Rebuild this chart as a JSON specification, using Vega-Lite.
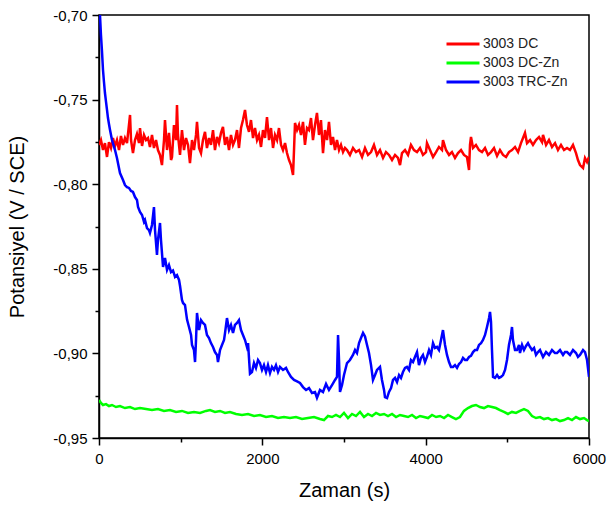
{
"$schema": "https://vega.github.io/schema/vega-lite/v6.json",
"width": 490, "height": 423,
"autosize": {"type": "none"},
"padding": {"left": 99, "top": 15, "right": 21, "bottom": 71},
"background": "white",
"config": {
  "locale": {"number": {"decimal": ",", "thousands": "", "grouping": [3], "currency": ["", ""], "minus": "-"}},
  "view": {"stroke": "black", "strokeWidth": 1.5},
  "font": "Liberation Sans",
  "axis": {"grid": false, "domainColor": "black", "domainWidth": 1.5, "tickColor": "black", "tickWidth": 1.5,
           "labelFont": "Liberation Sans", "labelFontSize": 15, "labelColor": "black",
           "titleFont": "Liberation Sans", "titleFontSize": 20, "titleFontWeight": "normal", "titleColor": "black"}
},
"datasets": {
"dc": [
{"t":0,"v":-0.7768},{"t":24,"v":-0.7739},{"t":49,"v":-0.7798},{"t":73,"v":-0.7757},{"t":98,"v":-0.7839},{"t":122,"v":-0.7751},{"t":147,"v":-0.7786},{"t":171,"v":-0.7727},{"t":196,"v":-0.7774},{"t":220,"v":-0.7739},{"t":245,"v":-0.7798},{"t":269,"v":-0.7715},{"t":294,"v":-0.7768},{"t":318,"v":-0.7727},{"t":343,"v":-0.7757},{"t":367,"v":-0.765},{"t":380,"v":-0.7591},{"t":392,"v":-0.7739},{"t":416,"v":-0.7816},{"t":441,"v":-0.7739},{"t":465,"v":-0.7703},{"t":490,"v":-0.7757},{"t":502,"v":-0.7668},{"t":527,"v":-0.7774},{"t":551,"v":-0.7709},{"t":576,"v":-0.7739},{"t":600,"v":-0.7727},{"t":624,"v":-0.778},{"t":649,"v":-0.7709},{"t":673,"v":-0.7786},{"t":698,"v":-0.7739},{"t":722,"v":-0.7798},{"t":747,"v":-0.7827},{"t":771,"v":-0.7887},{"t":796,"v":-0.7739},{"t":808,"v":-0.7621},{"t":833,"v":-0.7798},{"t":857,"v":-0.7697},{"t":882,"v":-0.7857},{"t":894,"v":-0.7839},{"t":918,"v":-0.765},{"t":943,"v":-0.7739},{"t":955,"v":-0.7532},{"t":967,"v":-0.7709},{"t":992,"v":-0.7827},{"t":1016,"v":-0.768},{"t":1041,"v":-0.7798},{"t":1065,"v":-0.7727},{"t":1090,"v":-0.7768},{"t":1114,"v":-0.7875},{"t":1139,"v":-0.7739},{"t":1163,"v":-0.7798},{"t":1188,"v":-0.7709},{"t":1200,"v":-0.7632},{"t":1225,"v":-0.7786},{"t":1249,"v":-0.7816},{"t":1273,"v":-0.7739},{"t":1298,"v":-0.7691},{"t":1322,"v":-0.7786},{"t":1347,"v":-0.7727},{"t":1371,"v":-0.7768},{"t":1396,"v":-0.768},{"t":1420,"v":-0.7798},{"t":1445,"v":-0.7721},{"t":1469,"v":-0.7757},{"t":1494,"v":-0.7697},{"t":1518,"v":-0.7662},{"t":1543,"v":-0.7768},{"t":1567,"v":-0.7721},{"t":1592,"v":-0.7798},{"t":1616,"v":-0.7709},{"t":1641,"v":-0.7768},{"t":1665,"v":-0.7739},{"t":1690,"v":-0.768},{"t":1714,"v":-0.7786},{"t":1739,"v":-0.7668},{"t":1763,"v":-0.7621},{"t":1788,"v":-0.7561},{"t":1812,"v":-0.765},{"t":1837,"v":-0.7691},{"t":1861,"v":-0.7621},{"t":1886,"v":-0.7727},{"t":1910,"v":-0.7668},{"t":1935,"v":-0.7739},{"t":1959,"v":-0.7709},{"t":1984,"v":-0.778},{"t":2008,"v":-0.768},{"t":2033,"v":-0.7727},{"t":2057,"v":-0.7603},{"t":2082,"v":-0.7739},{"t":2106,"v":-0.7668},{"t":2131,"v":-0.7786},{"t":2155,"v":-0.7709},{"t":2180,"v":-0.7739},{"t":2204,"v":-0.7668},{"t":2229,"v":-0.7768},{"t":2253,"v":-0.7798},{"t":2278,"v":-0.7757},{"t":2302,"v":-0.7816},{"t":2327,"v":-0.7857},{"t":2351,"v":-0.7887},{"t":2376,"v":-0.7946},{"t":2388,"v":-0.7798},{"t":2400,"v":-0.7638},{"t":2425,"v":-0.768},{"t":2449,"v":-0.765},{"t":2474,"v":-0.7709},{"t":2498,"v":-0.7632},{"t":2522,"v":-0.7768},{"t":2547,"v":-0.7668},{"t":2571,"v":-0.768},{"t":2596,"v":-0.7609},{"t":2620,"v":-0.7739},{"t":2645,"v":-0.765},{"t":2669,"v":-0.7579},{"t":2694,"v":-0.7709},{"t":2718,"v":-0.7621},{"t":2743,"v":-0.7816},{"t":2767,"v":-0.768},{"t":2792,"v":-0.7739},{"t":2816,"v":-0.7632},{"t":2841,"v":-0.7768},{"t":2865,"v":-0.7721},{"t":2890,"v":-0.7798},{"t":2914,"v":-0.7739},{"t":2939,"v":-0.7798},{"t":2963,"v":-0.7768},{"t":2988,"v":-0.781},{"t":3012,"v":-0.7786},{"t":3037,"v":-0.7798},{"t":3073,"v":-0.7827},{"t":3110,"v":-0.7786},{"t":3147,"v":-0.781},{"t":3184,"v":-0.7798},{"t":3221,"v":-0.7839},{"t":3257,"v":-0.7786},{"t":3294,"v":-0.7827},{"t":3331,"v":-0.781},{"t":3367,"v":-0.7768},{"t":3404,"v":-0.7827},{"t":3441,"v":-0.7798},{"t":3478,"v":-0.7845},{"t":3514,"v":-0.781},{"t":3551,"v":-0.7827},{"t":3588,"v":-0.7857},{"t":3625,"v":-0.7827},{"t":3661,"v":-0.7845},{"t":3686,"v":-0.7887},{"t":3710,"v":-0.7816},{"t":3747,"v":-0.7798},{"t":3784,"v":-0.7827},{"t":3820,"v":-0.7768},{"t":3857,"v":-0.7798},{"t":3894,"v":-0.781},{"t":3931,"v":-0.7786},{"t":3967,"v":-0.7827},{"t":4004,"v":-0.781},{"t":4016,"v":-0.7757},{"t":4053,"v":-0.7798},{"t":4090,"v":-0.7839},{"t":4127,"v":-0.781},{"t":4163,"v":-0.778},{"t":4200,"v":-0.7798},{"t":4212,"v":-0.7739},{"t":4249,"v":-0.7798},{"t":4286,"v":-0.7827},{"t":4322,"v":-0.781},{"t":4359,"v":-0.7845},{"t":4396,"v":-0.7816},{"t":4433,"v":-0.7798},{"t":4469,"v":-0.7827},{"t":4506,"v":-0.7839},{"t":4531,"v":-0.7916},{"t":4543,"v":-0.7768},{"t":4555,"v":-0.7721},{"t":4580,"v":-0.7786},{"t":4616,"v":-0.7768},{"t":4653,"v":-0.7798},{"t":4690,"v":-0.781},{"t":4727,"v":-0.7786},{"t":4763,"v":-0.7827},{"t":4800,"v":-0.781},{"t":4837,"v":-0.7786},{"t":4874,"v":-0.7833},{"t":4910,"v":-0.7798},{"t":4947,"v":-0.7827},{"t":4984,"v":-0.7839},{"t":5020,"v":-0.781},{"t":5057,"v":-0.7798},{"t":5094,"v":-0.778},{"t":5131,"v":-0.781},{"t":5167,"v":-0.7757},{"t":5192,"v":-0.7727},{"t":5216,"v":-0.7697},{"t":5241,"v":-0.7757},{"t":5278,"v":-0.7739},{"t":5314,"v":-0.7768},{"t":5351,"v":-0.7739},{"t":5388,"v":-0.7721},{"t":5425,"v":-0.7751},{"t":5437,"v":-0.7709},{"t":5474,"v":-0.7768},{"t":5510,"v":-0.7739},{"t":5547,"v":-0.778},{"t":5584,"v":-0.7757},{"t":5620,"v":-0.7798},{"t":5657,"v":-0.7768},{"t":5694,"v":-0.7798},{"t":5731,"v":-0.7786},{"t":5767,"v":-0.7798},{"t":5804,"v":-0.7768},{"t":5841,"v":-0.7816},{"t":5865,"v":-0.7857},{"t":5890,"v":-0.7887},{"t":5927,"v":-0.7904},{"t":5951,"v":-0.7845},{"t":5976,"v":-0.7869},{"t":6000,"v":-0.7839}
],
"dczn": [
{"t":0,"v":-0.9275},{"t":24,"v":-0.9293},{"t":49,"v":-0.9305},{"t":86,"v":-0.93},{"t":122,"v":-0.9311},{"t":159,"v":-0.9305},{"t":208,"v":-0.9317},{"t":257,"v":-0.9311},{"t":318,"v":-0.9323},{"t":380,"v":-0.9317},{"t":441,"v":-0.9329},{"t":502,"v":-0.9323},{"t":576,"v":-0.9329},{"t":649,"v":-0.9335},{"t":722,"v":-0.9329},{"t":796,"v":-0.934},{"t":869,"v":-0.9335},{"t":943,"v":-0.9346},{"t":1016,"v":-0.934},{"t":1090,"v":-0.9352},{"t":1163,"v":-0.9346},{"t":1237,"v":-0.9352},{"t":1310,"v":-0.934},{"t":1359,"v":-0.9335},{"t":1420,"v":-0.9346},{"t":1482,"v":-0.934},{"t":1543,"v":-0.9352},{"t":1604,"v":-0.9346},{"t":1678,"v":-0.9358},{"t":1751,"v":-0.9364},{"t":1825,"v":-0.9358},{"t":1898,"v":-0.937},{"t":1971,"v":-0.9364},{"t":2045,"v":-0.9376},{"t":2118,"v":-0.937},{"t":2192,"v":-0.9382},{"t":2265,"v":-0.9376},{"t":2339,"v":-0.9382},{"t":2412,"v":-0.9376},{"t":2486,"v":-0.9388},{"t":2559,"v":-0.9382},{"t":2633,"v":-0.9376},{"t":2706,"v":-0.9388},{"t":2755,"v":-0.9394},{"t":2804,"v":-0.937},{"t":2853,"v":-0.9376},{"t":2902,"v":-0.9364},{"t":2951,"v":-0.9376},{"t":3000,"v":-0.9352},{"t":3049,"v":-0.9382},{"t":3098,"v":-0.9358},{"t":3147,"v":-0.937},{"t":3196,"v":-0.9346},{"t":3245,"v":-0.9376},{"t":3294,"v":-0.9358},{"t":3343,"v":-0.937},{"t":3392,"v":-0.9352},{"t":3441,"v":-0.9364},{"t":3490,"v":-0.9358},{"t":3539,"v":-0.937},{"t":3588,"v":-0.9358},{"t":3637,"v":-0.9376},{"t":3686,"v":-0.9364},{"t":3735,"v":-0.937},{"t":3784,"v":-0.9376},{"t":3833,"v":-0.9364},{"t":3882,"v":-0.9382},{"t":3931,"v":-0.937},{"t":3980,"v":-0.9376},{"t":4029,"v":-0.9382},{"t":4078,"v":-0.9364},{"t":4127,"v":-0.9376},{"t":4176,"v":-0.937},{"t":4225,"v":-0.9382},{"t":4274,"v":-0.9364},{"t":4322,"v":-0.9376},{"t":4371,"v":-0.9388},{"t":4420,"v":-0.9376},{"t":4469,"v":-0.934},{"t":4518,"v":-0.9323},{"t":4567,"v":-0.9311},{"t":4616,"v":-0.9305},{"t":4665,"v":-0.9317},{"t":4714,"v":-0.9323},{"t":4763,"v":-0.9311},{"t":4812,"v":-0.9317},{"t":4861,"v":-0.9323},{"t":4910,"v":-0.9335},{"t":4959,"v":-0.9346},{"t":5008,"v":-0.9358},{"t":5057,"v":-0.9346},{"t":5106,"v":-0.9352},{"t":5155,"v":-0.934},{"t":5204,"v":-0.9329},{"t":5253,"v":-0.934},{"t":5302,"v":-0.937},{"t":5351,"v":-0.9382},{"t":5400,"v":-0.9376},{"t":5449,"v":-0.9388},{"t":5498,"v":-0.9382},{"t":5547,"v":-0.9394},{"t":5596,"v":-0.9388},{"t":5645,"v":-0.94},{"t":5694,"v":-0.9394},{"t":5743,"v":-0.9382},{"t":5792,"v":-0.9394},{"t":5841,"v":-0.9376},{"t":5890,"v":-0.9388},{"t":5939,"v":-0.9382},{"t":5976,"v":-0.9394},{"t":6000,"v":-0.94}
],
"trc": [
{"t":0,"v":-0.695},{"t":12,"v":-0.7},{"t":24,"v":-0.7118},{"t":37,"v":-0.7219},{"t":49,"v":-0.7325},{"t":61,"v":-0.7396},{"t":73,"v":-0.7461},{"t":86,"v":-0.7514},{"t":98,"v":-0.7561},{"t":110,"v":-0.7609},{"t":122,"v":-0.7644},{"t":135,"v":-0.768},{"t":159,"v":-0.7739},{"t":184,"v":-0.778},{"t":196,"v":-0.7798},{"t":220,"v":-0.7845},{"t":257,"v":-0.7934},{"t":294,"v":-0.7975},{"t":318,"v":-0.8005},{"t":343,"v":-0.8017},{"t":367,"v":-0.8022},{"t":392,"v":-0.804},{"t":416,"v":-0.8046},{"t":441,"v":-0.8076},{"t":465,"v":-0.8093},{"t":478,"v":-0.8135},{"t":502,"v":-0.8164},{"t":527,"v":-0.8182},{"t":551,"v":-0.8223},{"t":563,"v":-0.8212},{"t":588,"v":-0.8259},{"t":612,"v":-0.8271},{"t":624,"v":-0.8288},{"t":649,"v":-0.8241},{"t":673,"v":-0.8135},{"t":686,"v":-0.8271},{"t":710,"v":-0.8418},{"t":722,"v":-0.833},{"t":747,"v":-0.8229},{"t":759,"v":-0.833},{"t":784,"v":-0.8489},{"t":808,"v":-0.8436},{"t":833,"v":-0.8507},{"t":857,"v":-0.8478},{"t":882,"v":-0.8519},{"t":906,"v":-0.851},{"t":931,"v":-0.8548},{"t":955,"v":-0.8537},{"t":980,"v":-0.8566},{"t":992,"v":-0.86},{"t":1016,"v":-0.8684},{"t":1029,"v":-0.8702},{"t":1053,"v":-0.8714},{"t":1078,"v":-0.88},{"t":1102,"v":-0.8844},{"t":1127,"v":-0.8891},{"t":1139,"v":-0.895},{"t":1163,"v":-0.898},{"t":1176,"v":-0.9051},{"t":1188,"v":-0.8921},{"t":1200,"v":-0.8761},{"t":1225,"v":-0.8862},{"t":1249,"v":-0.8803},{"t":1273,"v":-0.882},{"t":1298,"v":-0.8832},{"t":1322,"v":-0.8891},{"t":1347,"v":-0.8909},{"t":1371,"v":-0.8939},{"t":1396,"v":-0.8962},{"t":1420,"v":-0.8992},{"t":1445,"v":-0.9009},{"t":1457,"v":-0.9051},{"t":1482,"v":-0.898},{"t":1506,"v":-0.895},{"t":1531,"v":-0.8921},{"t":1543,"v":-0.888},{"t":1567,"v":-0.8791},{"t":1592,"v":-0.8862},{"t":1616,"v":-0.8832},{"t":1641,"v":-0.8879},{"t":1665,"v":-0.8832},{"t":1690,"v":-0.882},{"t":1714,"v":-0.8803},{"t":1739,"v":-0.8862},{"t":1763,"v":-0.8891},{"t":1788,"v":-0.8921},{"t":1812,"v":-0.8962},{"t":1825,"v":-0.8939},{"t":1849,"v":-0.912},{"t":1873,"v":-0.911},{"t":1898,"v":-0.9057},{"t":1922,"v":-0.9086},{"t":1947,"v":-0.9039},{"t":1971,"v":-0.9057},{"t":1996,"v":-0.9098},{"t":2020,"v":-0.9069},{"t":2045,"v":-0.911},{"t":2069,"v":-0.9069},{"t":2094,"v":-0.9116},{"t":2118,"v":-0.908},{"t":2143,"v":-0.9098},{"t":2167,"v":-0.907},{"t":2192,"v":-0.911},{"t":2216,"v":-0.908},{"t":2253,"v":-0.9098},{"t":2290,"v":-0.9086},{"t":2314,"v":-0.911},{"t":2351,"v":-0.9139},{"t":2388,"v":-0.9157},{"t":2425,"v":-0.9165},{"t":2461,"v":-0.9175},{"t":2498,"v":-0.9199},{"t":2535,"v":-0.9216},{"t":2571,"v":-0.9205},{"t":2608,"v":-0.9234},{"t":2645,"v":-0.9228},{"t":2669,"v":-0.9262},{"t":2706,"v":-0.9216},{"t":2743,"v":-0.9228},{"t":2780,"v":-0.918},{"t":2816,"v":-0.9216},{"t":2853,"v":-0.9187},{"t":2890,"v":-0.9157},{"t":2914,"v":-0.9139},{"t":2927,"v":-0.8891},{"t":2939,"v":-0.9039},{"t":2951,"v":-0.9228},{"t":2976,"v":-0.9187},{"t":3000,"v":-0.9128},{"t":3037,"v":-0.9057},{"t":3073,"v":-0.9039},{"t":3110,"v":-0.9009},{"t":3135,"v":-0.898},{"t":3159,"v":-0.8998},{"t":3184,"v":-0.8939},{"t":3208,"v":-0.8909},{"t":3233,"v":-0.8879},{"t":3257,"v":-0.89},{"t":3282,"v":-0.895},{"t":3306,"v":-0.8998},{"t":3331,"v":-0.9069},{"t":3355,"v":-0.9157},{"t":3380,"v":-0.9128},{"t":3404,"v":-0.9098},{"t":3429,"v":-0.9086},{"t":3441,"v":-0.908},{"t":3465,"v":-0.9157},{"t":3490,"v":-0.9216},{"t":3502,"v":-0.9258},{"t":3527,"v":-0.9264},{"t":3551,"v":-0.9228},{"t":3576,"v":-0.9205},{"t":3600,"v":-0.9157},{"t":3625,"v":-0.9145},{"t":3649,"v":-0.9169},{"t":3674,"v":-0.9128},{"t":3698,"v":-0.9145},{"t":3722,"v":-0.911},{"t":3747,"v":-0.9086},{"t":3771,"v":-0.908},{"t":3796,"v":-0.9098},{"t":3820,"v":-0.9039},{"t":3845,"v":-0.9051},{"t":3869,"v":-0.9021},{"t":3894,"v":-0.8992},{"t":3918,"v":-0.9069},{"t":3943,"v":-0.9027},{"t":3967,"v":-0.9009},{"t":3992,"v":-0.9051},{"t":4016,"v":-0.9021},{"t":4041,"v":-0.898},{"t":4065,"v":-0.9009},{"t":4090,"v":-0.8939},{"t":4114,"v":-0.8968},{"t":4139,"v":-0.8962},{"t":4163,"v":-0.898},{"t":4188,"v":-0.8921},{"t":4212,"v":-0.8862},{"t":4237,"v":-0.895},{"t":4261,"v":-0.9009},{"t":4286,"v":-0.9051},{"t":4310,"v":-0.908},{"t":4335,"v":-0.908},{"t":4359,"v":-0.9069},{"t":4384,"v":-0.9086},{"t":4408,"v":-0.9063},{"t":4433,"v":-0.9051},{"t":4457,"v":-0.9027},{"t":4482,"v":-0.9039},{"t":4506,"v":-0.9039},{"t":4531,"v":-0.9021},{"t":4555,"v":-0.9015},{"t":4580,"v":-0.8992},{"t":4604,"v":-0.898},{"t":4629,"v":-0.898},{"t":4653,"v":-0.895},{"t":4678,"v":-0.8939},{"t":4702,"v":-0.8921},{"t":4727,"v":-0.8891},{"t":4751,"v":-0.8844},{"t":4776,"v":-0.8791},{"t":4788,"v":-0.8755},{"t":4800,"v":-0.8814},{"t":4812,"v":-0.898},{"t":4825,"v":-0.9139},{"t":4849,"v":-0.9145},{"t":4874,"v":-0.9128},{"t":4898,"v":-0.9145},{"t":4922,"v":-0.9139},{"t":4947,"v":-0.9128},{"t":4972,"v":-0.9098},{"t":4996,"v":-0.9039},{"t":5020,"v":-0.895},{"t":5045,"v":-0.8891},{"t":5057,"v":-0.8844},{"t":5069,"v":-0.8921},{"t":5094,"v":-0.898},{"t":5118,"v":-0.898},{"t":5143,"v":-0.895},{"t":5155,"v":-0.8998},{"t":5180,"v":-0.895},{"t":5204,"v":-0.898},{"t":5229,"v":-0.8956},{"t":5253,"v":-0.8939},{"t":5278,"v":-0.8962},{"t":5302,"v":-0.898},{"t":5327,"v":-0.8968},{"t":5351,"v":-0.9009},{"t":5376,"v":-0.8992},{"t":5400,"v":-0.898},{"t":5437,"v":-0.9021},{"t":5474,"v":-0.8992},{"t":5510,"v":-0.9009},{"t":5547,"v":-0.898},{"t":5584,"v":-0.8998},{"t":5608,"v":-0.8998},{"t":5645,"v":-0.898},{"t":5682,"v":-0.9009},{"t":5706,"v":-0.8992},{"t":5731,"v":-0.8992},{"t":5767,"v":-0.9009},{"t":5804,"v":-0.898},{"t":5841,"v":-0.8998},{"t":5865,"v":-0.9021},{"t":5890,"v":-0.9009},{"t":5927,"v":-0.898},{"t":5951,"v":-0.8992},{"t":5976,"v":-0.9039},{"t":6000,"v":-0.9139}
]
},
"encoding": {
  "x": {"field": "t", "type": "quantitative", "scale": {"domain": [0, 6000], "nice": false, "zero": false},
        "axis": {"title": "Zaman (s)", "values": [0,1000,2000,3000,4000,5000,6000], "format": "d",
                 "labelExpr": "datum.value % 2000 == 0 ? datum.label : ''",
                 "tickSize": {"condition": {"test": "datum.value % 2000 == 0", "value": 7}, "value": 4},
                 "labelPadding": 6, "titlePadding": 14, "labelFlush": false, "labelOverlap": false}},
  "y": {"field": "v", "type": "quantitative", "scale": {"domain": [-0.95, -0.70], "nice": false, "zero": false},
        "axis": {"title": "Potansiyel (V / SCE)", "values": [-0.95,-0.925,-0.9,-0.875,-0.85,-0.825,-0.8,-0.775,-0.75,-0.725,-0.7], "format": ".2f",
                 "labelExpr": "abs(round(datum.value*1000)) % 50 == 0 ? datum.label : ''",
                 "tickSize": {"condition": {"test": "abs(round(datum.value*1000)) % 50 == 0", "value": 7}, "value": 4},
                 "labelPadding": 5, "titlePadding": 25, "labelFlush": false, "labelOverlap": false}}
},
"layer": [
  {"data": {"name": "dc"}, "mark": {"type": "line", "strokeWidth": 2.5, "clip": true},
   "encoding": {"color": {"datum": "3003 DC", "type": "nominal",
     "scale": {"domain": ["3003 DC", "3003 DC-Zn", "3003 TRC-Zn"], "range": ["#ff0000", "#00ff00", "#0000ff"]},
     "legend": {"title": null, "orient": "none", "legendX": 346, "legendY": 22, "symbolType": "M-1,0H5", "symbolSize": 121,
                "symbolStrokeWidth": 3, "labelFontSize": 14, "labelFont": "Liberation Sans", "labelColor": "#222222",
                "labelOffset": 24, "rowPadding": 5}}}},
  {"data": {"name": "dczn"}, "mark": {"type": "line", "strokeWidth": 2.5, "clip": true},
   "encoding": {"color": {"datum": "3003 DC-Zn", "type": "nominal"}}},
  {"data": {"name": "trc"}, "mark": {"type": "line", "strokeWidth": 2.5, "clip": true},
   "encoding": {"color": {"datum": "3003 TRC-Zn", "type": "nominal"}}}
]
}
